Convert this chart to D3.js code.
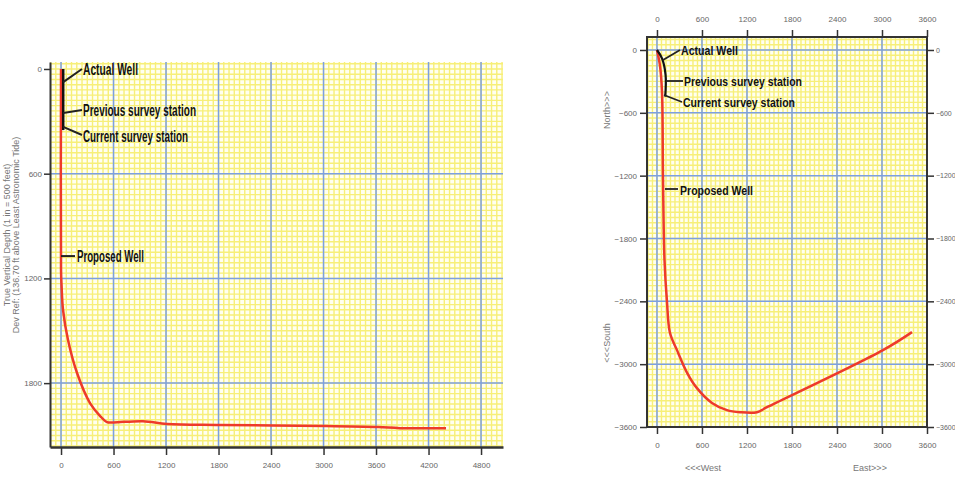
<!DOCTYPE html>
<html>
<head>
<meta charset="utf-8">
<script src="https://cdn.jsdelivr.net/npm/d3@7"></script>
<style>
  body { margin: 0; background: #fff; }
  .tick text { font-family: "Liberation Sans", Arial, sans-serif; font-size: 8px; fill: #666; }
  .right-axis .tick text { font-size: 7px; }
  .note { font-family: "Liberation Sans Narrow", "Arial Narrow", "Liberation Sans", sans-serif; font-weight: bold; fill: #111; }
  .axis-title { font-family: "Liberation Sans", Arial, sans-serif; font-size: 9px; fill: #777; }
</style>
</head>
<body>
<script>

// ---------- data: vertical section (left chart) ----------
const sectionTicksX = [0, 600, 1200, 1800, 2400, 3000, 3600, 4200, 4800];
const sectionTicksY = [0, 600, 1200, 1800];

// proposed well, horizontal displacement vs true vertical depth
const proposedVS  = [0, 0, 6, 23, 80, 183, 331, 450, 525, 600, 937, 1211, 1817, 3029, 3623, 3874, 4400];
const proposedTVD = [0, 1150, 1240, 1381, 1553, 1742, 1914, 1990, 2023, 2025, 2018, 2034, 2040, 2046, 2052, 2058, 2058];

// actual well (drilled so far)
const actualVS  = [25, 25];
const actualTVD = [0, 350];

// ---------- data: plan view (right chart) ----------
const planTicksX = [0, 600, 1200, 1800, 2400, 3000, 3600];
const planTicksY = [0, -600, -1200, -1800, -2400, -3000, -3600];

const proposedEast  = [0, 40, 67, 80, 100, 133, 173, 267, 400, 533, 733, 933, 1107, 1333, 1467, 3013, 3400];
const proposedNorth = [0, -150, -400, -1200, -2000, -2400, -2700, -2866, -3080, -3229, -3370, -3439, -3459, -3459, -3411, -2866, -2694];

const actualEast  = [0, 67, 115, 110];
const actualNorth = [0, -80, -240, -445];

const noteLabels = ["Actual Well", "Previous survey station", "Current survey station", "Proposed Well"];

//***********************************************
// svg canvas
const svg = d3.select("body").append("svg")
    .attr("width", 955)
    .attr("height", 480);

const defs = svg.append("defs");
const fmt = d3.format("d");

// yellow graph paper with blue major lines
function drawGrid(g, id, x, y, xMinor, yMinor, xMajor, yMajor) {
  const [xa, xb] = x.range(), [ya, yb] = y.range();
  defs.append("clipPath").attr("id", id)
    .append("rect")
      .attr("x", Math.min(xa, xb)).attr("y", Math.min(ya, yb))
      .attr("width", Math.abs(xb - xa)).attr("height", Math.abs(yb - ya));

  const grid = g.append("g").attr("clip-path", "url(#" + id + ")");

  grid.append("rect")
    .attr("x", Math.min(xa, xb)).attr("y", Math.min(ya, yb))
    .attr("width", Math.abs(xb - xa)).attr("height", Math.abs(yb - ya))
    .attr("fill", "#fffff0");

  grid.selectAll(".minor-x").data(xMinor).enter().append("line")
    .attr("x1", d => x(d)).attr("x2", d => x(d))
    .attr("y1", ya).attr("y2", yb)
    .attr("stroke", "#f7ef78").attr("stroke-width", 1.4);

  grid.selectAll(".minor-y").data(yMinor).enter().append("line")
    .attr("y1", d => y(d)).attr("y2", d => y(d))
    .attr("x1", xa).attr("x2", xb)
    .attr("stroke", "#f7ef78").attr("stroke-width", 1.4);

  grid.selectAll(".major-x").data(xMajor).enter().append("line")
    .attr("x1", d => x(d)).attr("x2", d => x(d))
    .attr("y1", ya).attr("y2", yb)
    .attr("stroke", "#7c9fe2").attr("stroke-width", 1.5);

  grid.selectAll(".major-y").data(yMajor).enter().append("line")
    .attr("y1", d => y(d)).attr("y2", d => y(d))
    .attr("x1", xa).attr("x2", xb)
    .attr("stroke", "#7c9fe2").attr("stroke-width", 1.5);
}

function note(g, text, x, y, size, len) {
  g.append("text")
    .attr("class", "note")
    .attr("x", x).attr("y", y)
    .attr("dy", "0.35em")
    .attr("font-size", size)
    .attr("textLength", len)
    .attr("lengthAdjust", "spacingAndGlyphs")
    .text(text);
}

const wellLine = d3.line().curve(d3.curveCatmullRom.alpha(0.5));

//***********************************************
// left chart: vertical section
const xL = d3.scaleLinear().domain([-126, 5051]).range([50, 503]);
const yL = d3.scaleLinear().domain([-40, 2166]).range([62, 447]);

const gL = svg.append("g").attr("id", "section");

drawGrid(gL, "clipL", xL, yL,
  d3.range(-120, 5100, 60), d3.range(-30, 2200, 30),
  sectionTicksX, sectionTicksY.slice(1));

gL.append("g")
  .attr("transform", "translate(50,0)")
  .call(d3.axisLeft(yL).tickValues(sectionTicksY).tickFormat(fmt).tickSize(6).tickPadding(2).tickSizeOuter(0))
  .call(a => a.select(".domain").attr("stroke", "#333").attr("stroke-width", 2));

gL.append("g")
  .attr("transform", "translate(0,447)")
  .call(d3.axisBottom(xL).tickValues(sectionTicksX).tickFormat(fmt).tickSize(8).tickPadding(7).tickSizeOuter(0))
  .call(a => a.select(".domain").attr("stroke", "#333").attr("stroke-width", 2.5));

gL.selectAll(".tick line").attr("stroke", "#333").attr("stroke-width", 1.5);

// well paths
gL.append("path")
  .attr("d", wellLine(proposedVS.map((d, i) => [xL(d), yL(proposedTVD[i])])))
  .attr("fill", "none").attr("stroke", "#ee3a2a").attr("stroke-width", 2.5);

gL.append("path")
  .attr("d", wellLine(actualVS.map((d, i) => [xL(d), yL(actualTVD[i])])))
  .attr("fill", "none").attr("stroke", "#111").attr("stroke-width", 2.5);

// annotations
const leadersL = [[[xL(25), yL(75)], [82, yL(0)]],
                  [[xL(25), yL(252)], [82, 110]],
                  [[xL(25), yL(332)], [82, 135]],
                  [[xL(0), yL(1072)], [75, yL(1072)]]];
leadersL.forEach(l => gL.append("path")
  .attr("d", d3.line()(l)).attr("stroke", "#222").attr("stroke-width", 2).attr("fill", "none"));

note(gL, noteLabels[0], 83, yL(0), 16, 55);
note(gL, noteLabels[1], 83, 110, 16, 113);
note(gL, noteLabels[2], 83, 136, 16, 105);
note(gL, noteLabels[3], 77, yL(1072), 16, 67);

gL.append("text").attr("class", "axis-title")
  .attr("transform", "translate(10,235) rotate(-90)")
  .attr("text-anchor", "middle")
  .text("True Vertical Depth (1 in = 500 feet)");
gL.append("text").attr("class", "axis-title")
  .attr("transform", "translate(19,235) rotate(-90)")
  .attr("text-anchor", "middle")
  .text("Dev Ref: (136.70 ft above Least Astronomic Tide)");

//***********************************************
// right chart: plan view
const xR = d3.scaleLinear().domain([-133, 3600]).range([647, 927]);
const yR = d3.scaleLinear().domain([124, -3600]).range([37, 427]);

const gR = svg.append("g").attr("id", "plan");

drawGrid(gR, "clipR", xR, yR,
  d3.range(-120, 3660, 60), d3.range(100, -3650, -50),
  planTicksX, planTicksY);

[["axisTop", "translate(0,37)"], ["axisBottom", "translate(0,427)"]].forEach(([ax, tr]) => {
  gR.append("g").attr("transform", tr)
    .call(d3[ax](xR).tickValues(planTicksX).tickFormat(fmt).tickSize(7).tickPadding(8).tickSizeOuter(0))
    .call(a => a.select(".domain").remove());
});
gR.append("g").attr("transform", "translate(647,0)")
  .call(d3.axisLeft(yR).tickValues(planTicksY).tickFormat(fmt).tickSize(7).tickPadding(3).tickSizeOuter(0))
  .call(a => a.select(".domain").remove());
gR.append("g").attr("class", "right-axis").attr("transform", "translate(927,0)")
  .call(d3.axisRight(yR).tickValues(planTicksY).tickFormat(fmt).tickSize(7).tickPadding(2).tickSizeOuter(0))
  .call(a => a.select(".domain").remove());
gR.selectAll(".tick line").attr("stroke", "#333").attr("stroke-width", 1.5);

gR.append("rect")
  .attr("x", 647).attr("y", 37).attr("width", 280).attr("height", 390)
  .attr("fill", "none").attr("stroke", "#333").attr("stroke-width", 2);

gR.append("path")
  .attr("d", wellLine(proposedEast.map((d, i) => [xR(d), yR(proposedNorth[i])])))
  .attr("fill", "none").attr("stroke", "#ee3a2a").attr("stroke-width", 2.5);

gR.append("path")
  .attr("d", wellLine(actualEast.map((d, i) => [xR(d), yR(actualNorth[i])])))
  .attr("fill", "none").attr("stroke", "#111").attr("stroke-width", 2.2);

const leadersR = [[[663, 60], [680, yR(0)]],
                  [[666, 81], [683, 81]],
                  [[664, 95], [682, 102]],
                  [[665, 189], [678, 189]]];
leadersR.forEach(l => gR.append("path")
  .attr("d", d3.line()(l)).attr("stroke", "#222").attr("stroke-width", 1.8).attr("fill", "none"));

note(gR, noteLabels[0], 681, yR(0), 13.5, 57);
note(gR, noteLabels[1], 684, 81, 13.5, 118);
note(gR, noteLabels[2], 683, 102, 13.5, 112);
note(gR, noteLabels[3], 680, 190, 13.5, 73);

gR.append("text").attr("class", "axis-title")
  .attr("transform", "translate(610,110) rotate(-90)")
  .attr("text-anchor", "middle").text("North>>>");
gR.append("text").attr("class", "axis-title")
  .attr("transform", "translate(610,343) rotate(-90)")
  .attr("text-anchor", "middle").text("<<<South");
gR.append("text").attr("class", "axis-title")
  .attr("x", 703).attr("y", 471).attr("text-anchor", "middle").text("<<<West");
gR.append("text").attr("class", "axis-title")
  .attr("x", 870).attr("y", 471).attr("text-anchor", "middle").text("East>>>");

</script>
</body>
</html>
